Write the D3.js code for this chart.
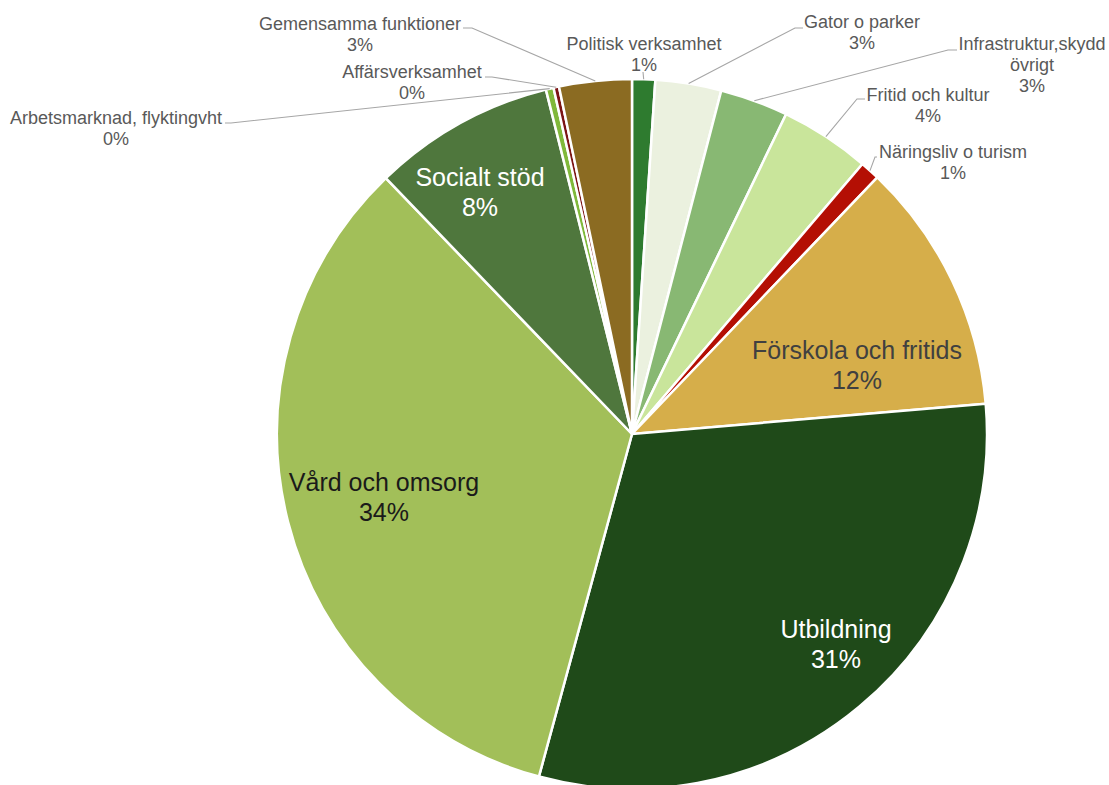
<!DOCTYPE html>
<html>
<head>
<meta charset="utf-8">
<script src="https://cdn.jsdelivr.net/npm/d3@7"></script>
<style>
  html, body { margin: 0; padding: 0; background: #ffffff; }
  svg { display: block; }
  text { font-family: "Liberation Sans", Arial, sans-serif; }
</style>
</head>
<body>
<svg id="chart" width="1109" height="785"></svg>
<script>
// ---- data ----
const categories = [
  "Politisk verksamhet",
  "Gator o parker",
  "Infrastruktur,skydd övrigt",
  "Fritid och kultur",
  "Näringsliv o turism",
  "Förskola och fritids",
  "Utbildning",
  "Vård och omsorg",
  "Socialt stöd",
  "Arbetsmarknad, flyktingvht",
  "Affärsverksamhet",
  "Gemensamma funktioner"
];
const shares = [1.05, 3.0, 3.1, 4.1, 0.9, 11.5, 30.6, 33.6, 8.3, 0.35, 0.25, 3.3];
const percentLabels = ["1%", "3%", "3%", "4%", "1%", "12%", "31%", "34%", "8%", "0%", "0%", "3%"];
const sliceColors = ["#2e7b2f", "#ebf1df", "#88b873", "#c9e59b", "#b40f04", "#d6ae4a",
                     "#1f4a19", "#a2bf59", "#4f773d", "#80b83a", "#7b1414", "#8b6b22"];

// ---- layout (label placement) ----
const cx = 632, cy = 434, R = 355;
const insideLabels = [
  {i: 5, x: 857, y: 350, lines: ["Förskola och fritids"], color: "#404040"},
  {i: 6, x: 836, y: 629, lines: ["Utbildning"], color: "#ffffff"},
  {i: 7, x: 384, y: 482, lines: ["Vård och omsorg"], color: "#1a1a1a"},
  {i: 8, x: 480, y: 177, lines: ["Socialt stöd"], color: "#ffffff"}
];
const outsideLabels = [
  {i: 0, x: 644, y: 44, lines: ["Politisk verksamhet"], ax: 643, ay: 72, elbow: 0},
  {i: 1, x: 862, y: 22, lines: ["Gator o parker"], ax: 803, ay: 28, elbow: -8},
  {i: 2, x: 1032, y: 44, lines: ["Infrastruktur,skydd", "övrigt"], ax: 957, ay: 50, elbow: -9},
  {i: 3, x: 928, y: 95, lines: ["Fritid och kultur"], ax: 865, ay: 99, elbow: -8},
  {i: 4, x: 953, y: 152, lines: ["Näringsliv o turism"], ax: 877, ay: 157, elbow: -2},
  {i: 9, x: 116, y: 118, lines: ["Arbetsmarknad, flyktingvht"], ax: 225, ay: 123, elbow: 6},
  {i: 10, x: 412, y: 72, lines: ["Affärsverksamhet"], ax: 485, ay: 77, elbow: 7},
  {i: 11, x: 360, y: 24, lines: ["Gemensamma funktioner"], ax: 463, ay: 28, elbow: 9}
];

const svg = d3.select("#chart");
const g = svg.append("g").attr("transform", `translate(${cx},${cy})`);

const pie = d3.pie().sort(null).value(d => d.v);
const data = categories.map((c, k) => ({name: c, v: shares[k], pct: percentLabels[k], color: sliceColors[k]}));
const arcs = pie(data);
const arc = d3.arc().innerRadius(0).outerRadius(R);

g.selectAll("path.slice")
  .data(arcs)
  .enter().append("path")
  .attr("class", "slice")
  .attr("d", arc)
  .attr("fill", d => d.data.color)
  .attr("stroke", "#ffffff")
  .attr("stroke-width", 2.5)
  .attr("stroke-linejoin", "round");

// leader lines
const lineGen = d3.line();
outsideLabels.forEach(L => {
  const a = arcs[L.i];
  const mid = (a.startAngle + a.endAngle) / 2;
  const px = cx + R * Math.sin(mid);
  const py = cy - R * Math.cos(mid);
  const pts = L.elbow === 0
    ? [[px, py], [L.ax, L.ay]]
    : [[px, py], [L.ax + L.elbow, L.ay], [L.ax, L.ay]];
  svg.append("path")
    .attr("d", lineGen(pts))
    .attr("fill", "none")
    .attr("stroke", "#a6a6a6")
    .attr("stroke-width", 1.1);
});

// outside label text
outsideLabels.forEach(L => {
  const lines = L.lines.concat([arcs[L.i].data.pct]);
  const t = svg.append("text")
    .attr("text-anchor", "middle")
    .attr("font-size", 18)
    .attr("fill", "#595959");
  lines.forEach((s, k) => {
    t.append("tspan")
      .attr("x", L.x)
      .attr("y", L.y + k * 21)
      .attr("dominant-baseline", "central")
      .text(s);
  });
});

// inside label text
insideLabels.forEach(L => {
  const lines = L.lines.concat([arcs[L.i].data.pct]);
  const t = svg.append("text")
    .attr("text-anchor", "middle")
    .attr("font-size", 25)
    .attr("fill", L.color);
  lines.forEach((s, k) => {
    t.append("tspan")
      .attr("x", L.x)
      .attr("y", L.y + k * 30)
      .attr("dominant-baseline", "central")
      .text(s);
  });
});
</script>
</body>
</html>
